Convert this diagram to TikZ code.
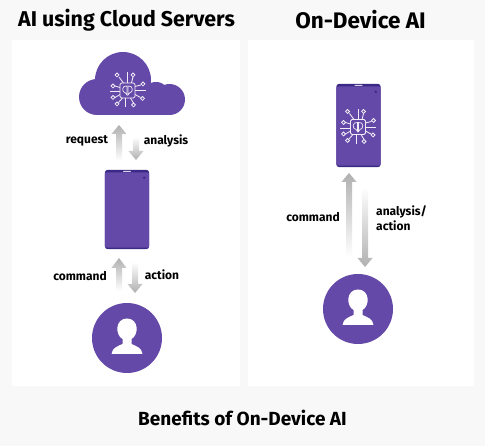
\documentclass[tikz,border=0pt]{standalone}
\usepackage{fontspec}
\setmainfont{Fira Sans}
\definecolor{pagebg}{HTML}{F8F8F8}
\definecolor{brand}{HTML}{6549A8}
\definecolor{branddark}{HTML}{3A2A85}
\definecolor{arrowgrey}{HTML}{B0B0B0}
\tikzset{
  panel/.style={fill=white,draw=none},
  headline/.style={font=\bfseries\fontsize{21.4}{24}\selectfont,text=black,inner sep=0pt},
  txtlabel/.style={font=\bfseries\fontsize{12}{15.5}\selectfont,text=black,inner sep=0pt,align=left},
  person/.style={circle,fill=brand,draw=none,minimum size=70pt,inner sep=0pt},
  chipline/.style={draw=white!90!brand,line width=.85pt},
}
% chip icon drawn about its centre, in pixels
\newcommand{\chipicon}[1]{%
  \begin{scope}[shift={(#1)}]
    \draw[chipline,rounded corners=1.5pt] (-7.5,-7.5) rectangle (7.5,7.5);
    \draw[chipline,line width=.7pt] (-.5,-4.5) .. controls (-6,-5.5) and (-6,2) .. (-2,2.5) -- (-.5,4.5) -- cycle;
    \draw[chipline,line width=.7pt] (.5,-4.5) .. controls (6,-5.5) and (6,2) .. (2,2.5) -- (.5,4.5) -- cycle;
    % plain leads
    \foreach \a/\b/\c/\d in {0/-7.5/0/-18,7.5/0/18/0,-7.5/1/-18/1,-2/7.5/-2/17}
      \draw[chipline] (\a,\b) -- (\c,\d);
    % leads with end dots
    \foreach \a/\b/\c/\d/\e/\f in {-4/-7.5/-8.5/-13.5/-10.5/-15.5,4/-7.5/5.5/-13.5/5.5/-15.5,7.5/-4/13.5/-5.5/15.5/-6.5,7.5/4/13/7/15/8,-7.5/-3/-12.5/-4.5/-14.5/-4.5,-7.5/4/-12.5/7/-14.5/7,-5/7.5/-9/12/-10.5/13.5,3/7.5/6/12.5/6/14.5}{
      \draw[chipline] (\a,\b) -- (\c,\d);
      \draw[chipline] (\e,\f) circle (1.9);
    }
  \end{scope}}
% phone body; #1 = node name, #2 = height
\newcommand{\phone}[2]{%
  \node[minimum width=44pt,minimum height=#2,inner sep=0pt] (#1) at (#1pos) {};
  \fill[branddark,rounded corners=3pt] (#1.north west) rectangle (#1.south east);
  \fill[brand,rounded corners=2pt] ([yshift=-2.5pt]#1.north west) rectangle ([yshift=1.5pt]#1.south east);
  \fill[white!75!brand,rounded corners=.5pt] ([xshift=-4pt,yshift=-1pt]#1.north) rectangle ([xshift=4pt,yshift=-2.2pt]#1.north);
  \fill[branddark] ([xshift=-5pt,yshift=-8pt]#1.north east) circle (1.4);}
% head-and-shoulders figure inside a person node
\newcommand{\userfig}[1]{%
  \fill[white] ([xshift=-15.5pt,yshift=-16pt]#1.center) .. controls ([xshift=-15pt,yshift=-10pt]#1.center) and ([xshift=-9pt,yshift=-8pt]#1.center) .. ([xshift=-4.5pt,yshift=-6pt]#1.center)
    -- ([xshift=-4.5pt,yshift=-1pt]#1.center) .. controls ([xshift=-12pt,yshift=3pt]#1.center) and ([xshift=-12pt,yshift=19.5pt]#1.center) .. ([yshift=19.5pt]#1.center)
    .. controls ([xshift=12pt,yshift=19.5pt]#1.center) and ([xshift=12pt,yshift=3pt]#1.center) .. ([xshift=4.5pt,yshift=-1pt]#1.center)
    -- ([xshift=4.5pt,yshift=-6pt]#1.center) .. controls ([xshift=9pt,yshift=-8pt]#1.center) and ([xshift=15pt,yshift=-10pt]#1.center) .. ([xshift=15.5pt,yshift=-16pt]#1.center) -- cycle;}
% fading arrows: x, tip y, head-base y, tail y
\newcommand{\uparr}[4]{%
  \path[top color=arrowgrey,bottom color=white,draw=none]
    (#1-7.5,#3) -- (#1,#2) -- (#1+7.5,#3) -- (#1+3,#3) -- (#1+3,#4) -- (#1-3,#4) -- (#1-3,#3) -- cycle;}
\newcommand{\downarr}[4]{%
  \path[top color=white,bottom color=arrowgrey,draw=none]
    (#1-7.5,#3) -- (#1,#2) -- (#1+7.5,#3) -- (#1+3,#3) -- (#1+3,#4) -- (#1-3,#4) -- (#1-3,#3) -- cycle;}
\begin{document}
\begin{tikzpicture}[x=1pt,y=-1pt]
  \useasboundingbox (0,0) rectangle (485,446);
  \fill[pagebg] (0,0) rectangle (485,446);
  \fill[panel] (12,40) rectangle (240,386);
  \fill[panel] (248,40) rectangle (474,386);

  \node[headline] (t1) at (126.5,20) {AI using Cloud Servers};
  \node[headline,font=\bfseries\fontsize{22.5}{24}\selectfont] (t2) at (360.5,20) {On-Device AI};
  \node[headline,font=\bfseries\fontsize{19}{22}\selectfont] (t3) at (242.5,418) {Benefits of On-Device AI};

  % cloud
  \fill[brand] (97,97) circle (18) (123,80) circle (28) (156,96) circle (14) (169.5,99.5) circle (15.5);
  \fill[brand] (97,90) rectangle (169.5,115);
  \chipicon{127.5,90.5}

  % left phone and person
  \coordinate (phoneLpos) at (127,209.5);
  \phone{phoneL}{79pt}
  \node[person] (userL) at (127,338) {};
  \userfig{userL}

  % right phone and person
  \coordinate (phoneRpos) at (358.5,125.5);
  \phone{phoneR}{83pt}
  \chipicon{358,127}
  \node[person] (userR) at (358,309) {};
  \userfig{userR}

  % arrows
  \uparr{119}{125}{134}{161}
  \downarr{136}{160}{151}{137}
  \uparr{119}{258}{268}{291}
  \downarr{135}{293}{284}{262}
  \uparr{349}{173}{182}{257}
  \downarr{365}{267}{258}{187}

  % labels
  \node[txtlabel] (l1) at (87,141) {request};
  \node[txtlabel] (l2) at (166,141) {analysis};
  \node[txtlabel] (l3) at (80,276) {command};
  \node[txtlabel] (l4) at (162,275) {action};
  \node[txtlabel] (l5) at (313,217) {command};
  \node[txtlabel,anchor=west] (l6) at (376,218) {analysis/\\action};
\end{tikzpicture}
\end{document}
